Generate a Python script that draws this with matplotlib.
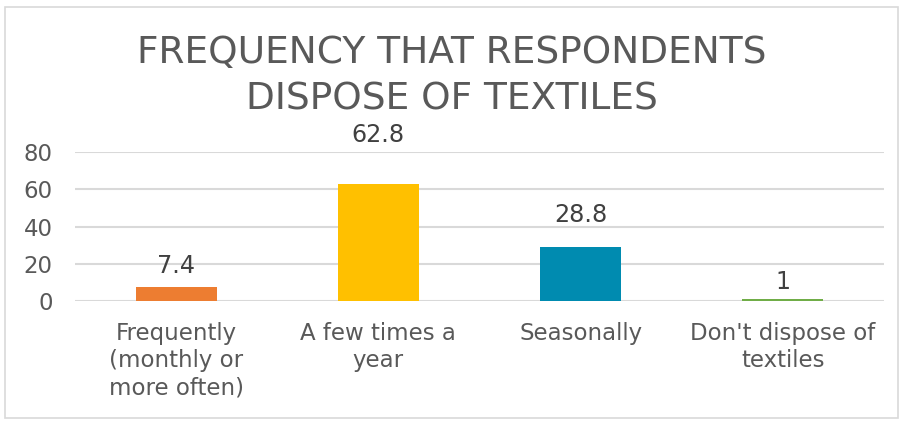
import matplotlib.pyplot as plt
from matplotlib.patches import Rectangle

categories = ["Frequently\n(monthly or\nmore often)", "A few times a\nyear",
              "Seasonally", "Don't dispose of\ntextiles"]
values = [7.4, 62.8, 28.8, 1]
bar_colors = ["#ED7D31", "#FFC000", "#008BB0", "#70AD47"]
label_lift = [21, 49, 32, 17]  # label gap above each bar [px]

plt.rcParams["font.family"] = "DejaVu Sans"
grey = "#595959"

fig = plt.figure(figsize=(9.03, 4.22), dpi=100)
ax = fig.add_axes([75 / 903, 1 - 301 / 422, 809 / 903, 149 / 422])

x = range(len(values))
ax.bar(x, values, width=0.4, color=bar_colors, zorder=3)
for i, v in enumerate(values):
    ax.annotate(f"{v:g}", (i, v), xytext=(0, label_lift[i] * 0.72),
                textcoords="offset points", ha="center", va="center",
                fontsize=17.2, color="#404040")

ax.set_xlim(-0.5, len(values) - 0.5)
ax.set_ylim(0, 80)
ax.set_yticks([0, 20, 40, 60, 80])
ax.set_xticks(list(x))
ax.set_xticklabels(categories, fontsize=16.5, color=grey, linespacing=1.23)
ax.tick_params(axis="y", labelsize=16.5, labelcolor=grey, length=0, pad=16)
ax.tick_params(axis="x", length=0, pad=15)
ax.grid(axis="y", color="#D9D9D9", linewidth=1.5, zorder=0)
for s in ax.spines.values():
    s.set_visible(False)

fig.text(0.5, 1 - 76 / 422, "FREQUENCY THAT RESPONDENTS\nDISPOSE OF TEXTILES",
         ha="center", va="center", fontsize=27, color=grey, linespacing=1.38)

# chart-area border
fig.patches.append(Rectangle((5 / 903, 4 / 422), 893 / 903, 411 / 422,
                             transform=fig.transFigure, fill=False,
                             edgecolor="#D9D9D9", linewidth=1.2))

fig.savefig("out.png", dpi=100)
